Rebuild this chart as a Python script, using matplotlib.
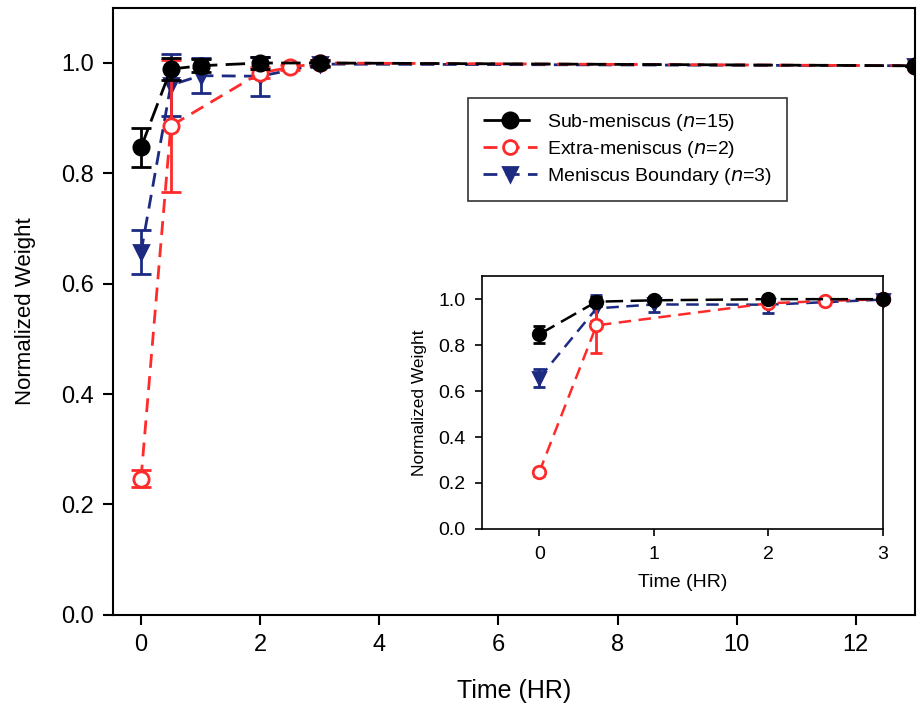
import matplotlib.pyplot as plt
from matplotlib.lines import Line2D
import numpy as np

plt.rcParams['font.family'] = ['Liberation Sans', 'DejaVu Sans']

# data
t_sub = np.array([0, 0.5, 1, 2, 3, 13])
w_sub = np.array([0.847, 0.989, 0.995, 1.0, 1.0, 0.995])
e_sub = np.array([0.036, 0.02, 0.012, 0.01, 0.005, 0.0])

t_ext = np.array([0, 0.5, 2, 2.5, 3, 13])
w_ext = np.array([0.247, 0.886, 0.982, 0.992, 1.0, 0.995])
e_ext = np.array([0.015, 0.12, 0.01, 0.005, 0.005, 0.0])

t_men = np.array([0, 0.5, 1, 2, 3, 13])
w_men = np.array([0.657, 0.96, 0.977, 0.976, 0.998, 0.995])
e_men = np.array([0.04, 0.056, 0.032, 0.035, 0.005, 0.0])

labels = [r'Sub-meniscus ($\it{n}$=15)',
          r'Extra-meniscus ($\it{n}$=2)',
          r'Meniscus Boundary ($\it{n}$=3)']

c_sub = 'black'
c_ext = '#ff2a2a'
c_men = '#1c2a82'

series = [(t_men, w_men, e_men, c_men, 'v', c_men, (0, (5, 3)), 1),
          (t_ext, w_ext, e_ext, c_ext, 'o', 'white', (0, (5, 3)), 2),
          (t_sub, w_sub, e_sub, c_sub, 'o', c_sub, (0, (7, 3)), 3)]

fig = plt.figure(figsize=(9.19, 7.10), dpi=100)
ax = fig.add_axes([0.123, 0.134, 0.873, 0.855])

def draw(a, ms, cs, lw, mask=None, clip=True):
    for t, w, e, c, m, fc, ls, z in series:
        sel = t <= mask if mask is not None else np.ones(len(t), bool)
        a.errorbar(t[sel], w[sel], yerr=e[sel], color=c, ecolor=c,
                   marker=m, mfc=fc, mec=c, mew=2,
                   ms=ms if m == 'o' else ms * 0.95,
                   linestyle=ls, lw=lw, capsize=cs, elinewidth=2,
                   capthick=2, clip_on=clip, zorder=z)

draw(ax, 11, 7, 2)
ax.set_xlim(-0.47, 13)
ax.set_ylim(0, 1.1)
ax.set_xticks([0, 2, 4, 6, 8, 10, 12])
ax.set_yticks([0, 0.2, 0.4, 0.6, 0.8, 1.0])
ax.set_yticklabels(['0.0', '0.2', '0.4', '0.6', '0.8', '1.0'])
ax.tick_params(direction='out', length=7, width=1.5, labelsize=17, pad=7)
ax.set_xlabel('Time (HR)', fontsize=18, labelpad=16)
ax.set_ylabel('Normalized Weight', fontsize=16, labelpad=18)
for s in ax.spines.values():
    s.set_linewidth(1.5)

handles = [Line2D([], [], color=c_sub, marker='o', mfc=c_sub, mec=c_sub, ms=11,
                  mew=2, lw=2, linestyle=(0, (7, 3))),
           Line2D([], [], color=c_ext, marker='o', mfc='white', mec=c_ext, ms=10,
                  mew=2, lw=2, linestyle=(0, (5, 3))),
           Line2D([], [], color=c_men, marker='v', mfc=c_men, mec=c_men, ms=10,
                  mew=2, lw=2, linestyle=(0, (5, 3)))]
leg = ax.legend(handles, labels, loc='upper left', bbox_to_anchor=(0.443, 0.852),
                borderaxespad=0, fontsize=14, frameon=True, fancybox=False,
                edgecolor='black', handlelength=2.8, borderpad=0.75,
                labelspacing=0.3, handletextpad=0.5)
leg.get_frame().set_linewidth(1.2)

# inset
ins = fig.add_axes([0.5245, 0.255, 0.436, 0.356])
draw(ins, 9, 4, 1.8, mask=3, clip=False)
ins.set_xlim(-0.5, 3)
ins.set_ylim(0, 1.1)
ins.set_xticks([0, 1, 2, 3])
ins.set_yticks([0, 0.2, 0.4, 0.6, 0.8, 1.0])
ins.set_yticklabels(['0.0', '0.2', '0.4', '0.6', '0.8', '1.0'])
ins.tick_params(direction='out', length=5, width=1.2, labelsize=14, pad=7)
ins.set_xlabel('Time (HR)', fontsize=14, labelpad=8)
ins.set_ylabel('Normalized Weight', fontsize=12.5, labelpad=8)
for s in ins.spines.values():
    s.set_linewidth(1.2)

fig.savefig('out.png', dpi=100)
